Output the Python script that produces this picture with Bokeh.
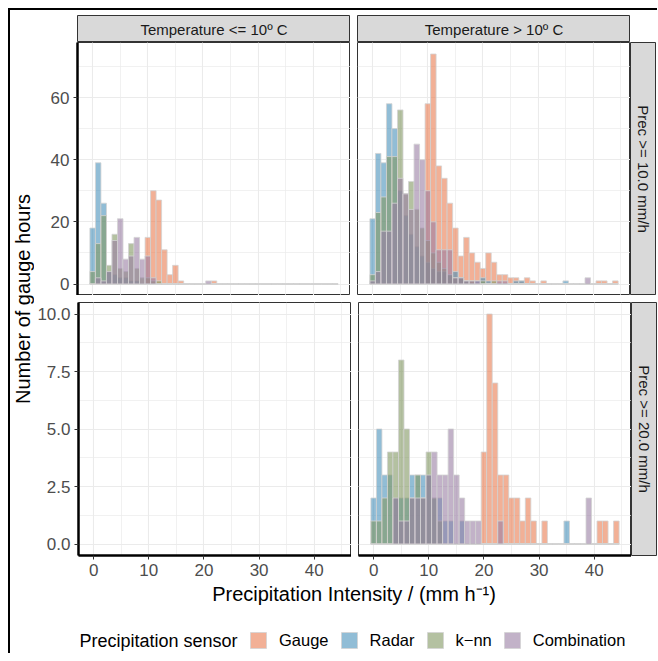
import math
from bokeh.plotting import figure
from bokeh.layouts import row, column
from bokeh.models import (Range1d, LinearAxis, Grid, SingleIntervalTicker,
                          PrintfTickFormatter, ColumnDataSource, Legend, LegendItem)
from bokeh.core.properties import value
from bokeh.embed import file_html
from bokeh.resources import INLINE

FONT = "Liberation Sans"

# ---------------- data ----------------
bin_centres = list(range(45))          # histogram bins, width 1 mm/h
series_names = ["Gauge", "Radar", "k\u2212nn", "Combination"]
series_colours = ["#E97B50", "#4891BB", "#829862", "#997FA3"]

col_labels = ["Temperature <= 10\u00ba C", "Temperature > 10\u00ba C"]
row_labels = ["Prec >= 10.0 mm/h", "Prec >= 20.0 mm/h"]

# Temperature <= 10 C, Prec >= 10 mm/h
gauge_cold_10 = [0,0,0,0,0, 0,0,0,0,0, 15,30,27,11,3, 6,1,0,0,0, 0,0,1,0,0, 0,0,0,0,0, 0,0,0,0,0, 0,0,0,0,0, 0,0,0,0,0]
radar_cold_10 = [18,39,26,4,3, 2,2,1,1,0, 0,0,0,0,0, 0,0,0,0,0, 0,0,0,0,0, 0,0,0,0,0, 0,0,0,0,0, 0,0,0,0,0, 0,0,0,0,0]
knn_cold_10   = [4,13,22,6,16, 5,4,13,5,2, 2,1,1,0,0, 0,0,0,0,0, 0,0,0,0,0, 0,0,0,0,0, 0,0,0,0,0, 0,0,0,0,0, 0,0,0,0,0]
comb_cold_10  = [0,2,1,4,14, 21,8,9,15,8, 9,2,0,0,0, 0,0,0,0,0, 0,1,0,0,0, 0,0,0,0,0, 0,0,0,0,0, 0,0,0,0,0, 0,0,0,0,0]

# Temperature > 10 C, Prec >= 10 mm/h
gauge_warm_10 = [0,0,0,0,0, 0,0,0,0,0, 58,74,38,34,26, 18,9,15,10,7, 5,10,7,3,3, 2,2,1,2,1, 0,1,0,0,0, 0,0,0,0,0, 0,1,1,0,1]
radar_warm_10 = [21,42,39,58,50, 30,22,16,12,9, 7,5,4,4,3, 4,2,1,0,1, 2,1,0,0,0, 0,1,1,0,0, 0,0,0,0,0, 1,0,0,0,0, 0,0,0,0,0]
knn_warm_10   = [3,23,28,41,41, 56,29,33,24,18, 14,10,7,5,3, 2,2,1,1,0, 1,0,1,0,0, 0,0,0,0,0, 0,0,0,0,0, 0,0,0,0,0, 0,0,0,0,0]
comb_warm_10  = [1,4,17,17,26, 34,29,24,45,40, 30,20,11,11,11, 2,2,1,1,1, 0,0,0,1,1, 0,0,0,0,0, 0,0,0,0,0, 0,0,0,0,2, 0,0,0,0,0]

# Temperature > 10 C, Prec >= 20 mm/h   (Temperature <= 10 C has no such hours)
gauge_warm_20 = [0,0,0,0,0, 0,0,0,0,0, 0,0,0,0,0, 0,0,0,0,0, 4,10,7,3,3, 2,2,1,2,1, 0,1,0,0,0, 0,0,0,0,0, 0,1,1,0,1]
radar_warm_20 = [2,5,3,3,2, 2,2,3,3,3, 3,2,2,1,1, 0,1,0,0,0, 0,0,0,0,0, 0,0,0,0,0, 0,0,0,0,0, 1,0,0,0,0, 0,0,0,0,0]
knn_warm_20   = [1,1,2,4,4, 8,5,2,3,2, 4,2,1,0,0, 0,0,0,0,0, 0,0,0,0,0, 0,0,0,0,0, 0,0,0,0,0, 0,0,0,0,0, 0,0,0,0,0]
comb_warm_20  = [0,0,0,0,2, 1,1,2,2,2, 3,4,3,3,5, 3,2,1,1,1, 0,0,0,1,0, 0,0,0,0,0, 0,0,0,0,0, 0,0,0,0,2, 0,0,0,0,0]

panel_cold_10 = [gauge_cold_10, radar_cold_10, knn_cold_10, comb_cold_10]
panel_warm_10 = [gauge_warm_10, radar_warm_10, knn_warm_10, comb_warm_10]
panel_cold_20 = []
panel_warm_20 = [gauge_warm_20, radar_warm_20, knn_warm_20, comb_warm_20]

# ---------------- styling ----------------
PW, PH = 273, 253          # panel frame size
GAP = 7
STRIP = 26
STRIP_H = 27
LEFT = 43                  # room for y tick labels
YT_W = 24                  # y title column
BOTTOM = 28                # room for x tick labels
FILL_ALPHA = 0.6
EDGE = "#D3D3D3"
GRID = "#EBEBEB"
TICK_TXT = "#4D4D4D"
TICK_SIZE = "17px"
TITLE_SIZE = "20px"

lo = bin_centres[0] - 0.5
hi = bin_centres[-1] + 0.5
xpad = 0.05 * (hi - lo)


def yrange_for(panels):
    m = max(max(c) for pnl in panels for c in pnl)
    return Range1d(-0.05 * m, m * 1.05)


def make_panel(counts, yr, yint, yfmt, left_axis, bottom_axis, mbl, mbt, mbb):
    p = figure(title=None, frame_width=PW, frame_height=PH,
               x_range=Range1d(lo - xpad, hi + xpad), y_range=yr,
               x_axis_type=None, y_axis_type=None, toolbar_location=None,
               output_backend="svg", min_border_left=mbl, min_border_right=0,
               min_border_top=mbt, min_border_bottom=mbb)
    p.outline_line_color = "#333333"
    p.outline_line_width = 1
    p.background_fill_color = "white"
    xt = SingleIntervalTicker(interval=10, num_minor_ticks=2)
    yt = SingleIntervalTicker(interval=yint, num_minor_ticks=2)
    for dim, tk in ((0, xt), (1, yt)):
        p.add_layout(Grid(dimension=dim, ticker=tk, grid_line_color=GRID,
                          grid_line_width=1.1, minor_grid_line_color=GRID,
                          minor_grid_line_width=0.7))
    for cts, col in zip(counts, series_colours):
        src = ColumnDataSource(dict(left=[c - 0.5 for c in bin_centres],
                                    right=[c + 0.5 for c in bin_centres],
                                    top=cts, bottom=[0] * len(cts)))
        p.quad(left="left", right="right", top="top", bottom="bottom", source=src,
               fill_color=col, fill_alpha=FILL_ALPHA, line_color=EDGE, line_width=0.8)
    common = dict(major_label_text_font=FONT, major_label_text_font_size=TICK_SIZE,
                  major_label_text_color=TICK_TXT, axis_line_color="black",
                  axis_line_width=2.5, major_tick_line_color="#333333",
                  major_tick_in=0, major_tick_out=4, minor_tick_line_color=None,
                  major_label_standoff=4)
    if left_axis:
        p.add_layout(LinearAxis(ticker=yt, formatter=PrintfTickFormatter(format=yfmt),
                                **common), "left")
    if bottom_axis:
        p.add_layout(LinearAxis(ticker=xt, formatter=PrintfTickFormatter(format="%d"),
                                **common), "below")
    return p


def make_strip(text, w, h, angle, mbl=0, mbt=0, mbb=0):
    s = figure(title=None, frame_width=w, frame_height=h, x_range=Range1d(0, 1),
               y_range=Range1d(0, 1), x_axis_type=None, y_axis_type=None,
               toolbar_location=None, output_backend="svg", min_border_left=mbl,
               min_border_right=0, min_border_top=mbt, min_border_bottom=mbb)
    s.background_fill_color = "#D9D9D9"
    s.outline_line_color = "#333333"
    s.outline_line_width = 1
    s.text(x=[0.5], y=[0.5], text=[text], angle=angle, text_align="center",
           text_baseline="middle", text_font=value(FONT), text_font_size="15px",
           text_color="#1A1A1A")
    return s


yr_top = yrange_for([panel_cold_10, panel_warm_10])
yr_bot = yrange_for([panel_warm_20])

p_tl = make_panel(panel_cold_10, yr_top, 20, "%d", True, False, LEFT, 0, 0)
p_tr = make_panel(panel_warm_10, yr_top, 20, "%d", False, False, GAP, 0, 0)
p_bl = make_panel(panel_cold_20, yr_bot, 2.5, "%.1f", True, True, LEFT, GAP, BOTTOM)
p_br = make_panel(panel_warm_20, yr_bot, 2.5, "%.1f", False, True, GAP, GAP, BOTTOM)

s_tl = make_strip(col_labels[0], PW, STRIP_H, 0, mbl=LEFT, mbt=5)
s_tr = make_strip(col_labels[1], PW, STRIP_H, 0, mbl=GAP, mbt=5)
s_r1 = make_strip(row_labels[0], STRIP, PH, -math.pi / 2)
s_r2 = make_strip(row_labels[1], STRIP, PH, -math.pi / 2, mbt=GAP, mbb=BOTTOM)

# y axis title
yt_fig = figure(title=None, frame_width=YT_W, frame_height=2 * PH + GAP,
                x_range=Range1d(0, 1), y_range=Range1d(0, 1), x_axis_type=None,
                y_axis_type=None, toolbar_location=None, output_backend="svg",
                min_border_left=0, min_border_right=0, min_border_top=5 + STRIP_H,
                min_border_bottom=BOTTOM)
yt_fig.outline_line_color = None
yt_fig.text(x=[0.5], y=[0.5], text=["Number of gauge hours"], angle=math.pi / 2,
            text_align="center", text_baseline="middle", text_font=value(FONT),
            text_font_size=TITLE_SIZE, text_color="black")

# x axis title
FW = 2 * PW + GAP
XT_H = 26
xt_fig = figure(title=None, frame_width=FW, frame_height=XT_H,
                x_range=Range1d(0, 1), y_range=Range1d(0, 1), x_axis_type=None,
                y_axis_type=None, toolbar_location=None, output_backend="svg",
                min_border_left=YT_W + LEFT, min_border_right=STRIP,
                min_border_top=0, min_border_bottom=0)
xt_fig.outline_line_color = None
xt_fig.text(x=[0.5], y=[0.6], text=["Precipitation Intensity / (mm h\u207b\u00b9)"],
            text_align="center", text_baseline="middle", text_font=value(FONT),
            text_font_size=TITLE_SIZE, text_color="black")

# legend (frame aligned with the panels; ranges in pixels)
LH = 44
lg = figure(title=None, frame_width=FW, frame_height=LH, x_range=Range1d(0, FW),
            y_range=Range1d(0, LH), x_axis_type=None, y_axis_type=None,
            toolbar_location=None, output_backend="svg",
            min_border_left=YT_W + LEFT, min_border_right=STRIP,
            min_border_top=0, min_border_bottom=0)
lg.outline_line_color = None
items = []
for name, col in zip(series_names, series_colours):
    # legend-only renderer: one rectangle lying outside the visible range
    r = lg.quad(left=[-20], right=[-10], top=[-10], bottom=[-20], fill_color=col,
                fill_alpha=FILL_ALPHA, line_color=EDGE, line_width=0.8)
    items.append(LegendItem(label=name, renderers=[r]))
KEY_X = 171
legend = Legend(items=items, orientation="horizontal", location=(KEY_X, 3),
                padding=0, margin=0, spacing=10, label_standoff=11,
                glyph_width=20, glyph_height=20, label_text_font=FONT,
                label_text_font_size="16.5px", label_text_color="black",
                border_line_color=None, background_fill_alpha=0)
lg.add_layout(legend)
lg.text(x=[KEY_X - 11], y=[13], text=["Precipitation sensor"], text_align="right",
        text_baseline="middle", text_font=value(FONT), text_font_size="18px",
        text_color="black")

grid_col = column(row(s_tl, s_tr), row(p_tl, p_tr, s_r1), row(p_bl, p_br, s_r2))
root = column(row(yt_fig, grid_col), xt_fig, lg,
              styles={"margin-left": "8px", "margin-top": "8px",
                      "border-left": "2px solid black", "border-top": "2px solid black"})

open("out.html", "w").write(file_html(root, INLINE))
